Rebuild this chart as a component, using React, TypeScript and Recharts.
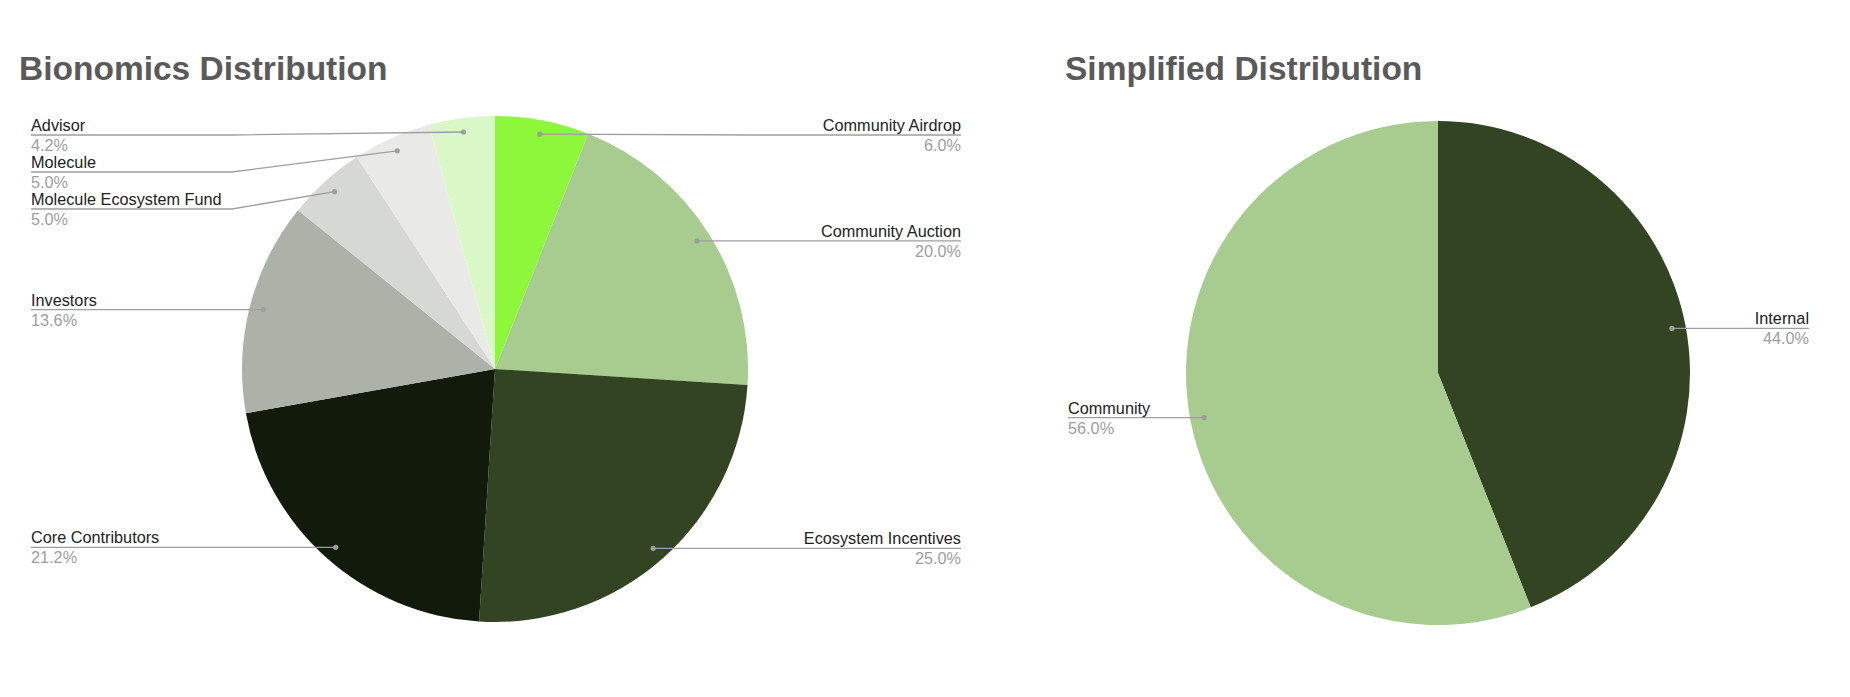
import { PieChart, Pie, Cell } from "recharts";

const W = 1850;
const H = 697;

// Bionomics Distribution — clockwise from 12 o'clock
const bioNames = [
  "Community Airdrop",
  "Community Auction",
  "Ecosystem Incentives",
  "Core Contributors",
  "Investors",
  "Molecule Ecosystem Fund",
  "Molecule",
  "Advisor",
];
const bioValues = [6.0, 20.0, 25.0, 21.2, 13.6, 5.0, 5.0, 4.2];
const bioColors = ["#8df73a", "#a8cc8f", "#334423", "#111a0b", "#adb2a8", "#d6d8d3", "#e9e9e8", "#d9f7c7"];

// Simplified Distribution
const simpleNames = ["Internal", "Community"];
const simpleValues = [44.0, 56.0];
const simpleColors = ["#334423", "#a8cc8f"];

const FONT = "'Liberation Sans', Arial, sans-serif";
const LINE = "#9e9e9e";
const DOT_R = 0.945; // leader dot sits just inside the rim
const GAP = 37; // min vertical distance between stacked labels
const TOP_LIMIT = 135; // labels never go above this line

// label y per slice: start at the dot's y, then push down on each side so labels don't overlap
function spreadLabels(values: number[], cy: number, r: number) {
  const total = values.reduce((a, b) => a + b, 0);
  let acc = 0;
  const items = values.map((v, i) => {
    const mid = ((acc + v / 2) / total) * 2 * Math.PI;
    acc += v;
    return { i, right: Math.sin(mid) >= 0, y: cy - r * Math.cos(mid) };
  });
  const ys = items.map((d) => d.y);
  [true, false].forEach((side) => {
    const group = items.filter((d) => d.right === side).sort((a, b) => a.y - b.y);
    let prev = TOP_LIMIT - GAP;
    group.forEach((d) => {
      const y = Math.max(d.y, prev + GAP);
      ys[d.i] = y;
      prev = y;
    });
  });
  return ys;
}

const makeLabel = (ys: number[], leftX: number, rightX: number) => (props: any) => {
  const { cx, cy, midAngle, outerRadius, index, name, percent } = props;
  const RAD = Math.PI / 180;
  const r = outerRadius * DOT_R;
  const dx = cx + r * Math.cos(-midAngle * RAD);
  const dy = cy + r * Math.sin(-midAngle * RAD);
  const right = dx >= cx;
  const ly = ys[index];
  const bend = right
    ? Math.max(cx + outerRadius + 12, dx)
    : Math.min(cx - outerRadius - 10, dx);
  const tx = right ? rightX : leftX;
  const anchor = right ? "end" : "start";
  return (
    <g key={`lbl-${index}`}>
      <path d={`M${dx},${dy} L${bend},${ly} H${tx}`} stroke={LINE} strokeWidth={1.3} fill="none" />
      <circle cx={dx} cy={dy} r={2.6} fill={LINE} />
      <text x={tx} y={ly - 4} textAnchor={anchor} fontSize={16.25} fontFamily={FONT} fill="#222">
        {name}
      </text>
      <text x={tx} y={ly + 16} textAnchor={anchor} fontSize={16.25} fontFamily={FONT} fill="#9e9e9e">
        {`${(percent * 100).toFixed(1)}%`}
      </text>
    </g>
  );
};

const bioData = bioNames.map((name, i) => ({ name, value: bioValues[i] }));
const simpleData = simpleNames.map((name, i) => ({ name, value: simpleValues[i] }));

const BIO = { cx: 495, cy: 369, r: 253 };
const SIMPLE = { cx: 1438, cy: 373, r: 252 };

const bioYs = spreadLabels(bioValues, BIO.cy, BIO.r * DOT_R);
const simpleYs = spreadLabels(simpleValues, SIMPLE.cy, SIMPLE.r * DOT_R);

const titleStyle: React.CSSProperties = {
  position: "absolute",
  top: 52,
  fontFamily: FONT,
  fontWeight: 700,
  fontSize: 33.5,
  lineHeight: "33px",
  color: "#5a5a5a",
  whiteSpace: "nowrap",
};

export default function App() {
  return (
    <div style={{ position: "absolute", left: 0, top: 0, width: W, height: H, background: "#fff" }}>
      <PieChart width={W} height={H} margin={{ top: 0, right: 0, bottom: 0, left: 0 }}>
        <Pie
          data={bioData}
          dataKey="value"
          nameKey="name"
          cx={BIO.cx}
          cy={BIO.cy}
          outerRadius={BIO.r}
          startAngle={90}
          endAngle={-270}
          stroke="none"
          label={makeLabel(bioYs, 31, 961)}
          labelLine={false}
          isAnimationActive={false}
        >
          {bioData.map((d, i) => (
            <Cell key={d.name} fill={bioColors[i]} />
          ))}
        </Pie>
        <Pie
          data={simpleData}
          dataKey="value"
          nameKey="name"
          cx={SIMPLE.cx}
          cy={SIMPLE.cy}
          outerRadius={SIMPLE.r}
          startAngle={90}
          endAngle={-270}
          stroke="none"
          label={makeLabel(simpleYs, 1068, 1809)}
          labelLine={false}
          isAnimationActive={false}
        >
          {simpleData.map((d, i) => (
            <Cell key={d.name} fill={simpleColors[i]} />
          ))}
        </Pie>
      </PieChart>
      <div style={{ ...titleStyle, left: 19 }}>Bionomics Distribution</div>
      <div style={{ ...titleStyle, left: 1065 }}>Simplified Distribution</div>
    </div>
  );
}
